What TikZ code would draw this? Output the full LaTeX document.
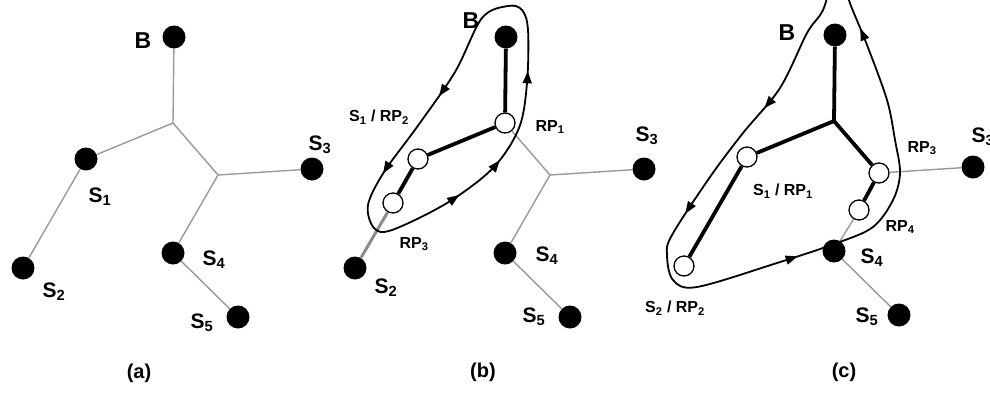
\documentclass[tikz,border=0pt]{standalone}
\usepackage{fontspec}
\setsansfont{Liberation Sans}
\usetikzlibrary{arrows.meta,decorations.markings}

\tikzset{
  site/.style={circle,fill=black,minimum size=23pt,inner sep=0pt},
  relay/.style={circle,draw=black,line width=1.3pt,fill=white,minimum size=20pt,inner sep=0pt},
  link/.style={black!40,line width=1.4pt},
  heavy/.style={black,line width=3.8pt},
  tour/.style={black,line width=1.8pt},
  flow/.style={postaction={decorate,decoration={markings,
      mark=at position #1 with {\arrow{Triangle[length=12pt,width=9pt]}}}}},
  lbl/.style={font=\fontsize{21}{23}\selectfont\bfseries\sffamily,inner sep=0pt},
  blbl/.style={font=\fontsize{23}{25}\selectfont\bfseries\sffamily,inner sep=0pt},
  rplbl/.style={font=\fontsize{16}{18}\selectfont\bfseries\sffamily,inner sep=0pt},
  panel/.style={font=\fontsize{20}{22}\selectfont\bfseries\sffamily,inner sep=0pt}
}

\begin{document}
\begin{tikzpicture}[x=1pt,y=-1pt]
  \useasboundingbox (0,0) rectangle (990,397);
  \clip (0,0) rectangle (990,397);
  % (a): the plain tree
  \begin{scope}
    \node[site] (aB) at (174,37) {};
    \coordinate (aJ1) at (173,123);
    \coordinate (aJ2) at (218,175);
    \node[site] (aS1) at (86,159) {};
    \node[site] (aS2) at (23,268) {};
    \node[site] (aS3) at (312,169) {};
    \node[site] (aS4) at (173,253) {};
    \node[site] (aS5) at (238,317) {};
    \draw[link] (aB) -- (aJ1) -- (aS1) -- (aS2);
    \draw[link] (aJ1) -- (aJ2) -- (aS3);
    \draw[link] (aJ2) -- (aS4) -- (aS5);
    \node[blbl] (aBl) at (143,41) {B};
    \node[lbl] (aS1l) at (100,197) {S\textsubscript{1}};
    \node[lbl] (aS2l) at (54,292) {S\textsubscript{2}};
    \node[lbl] (aS3l) at (320,145) {S\textsubscript{3}};
    \node[lbl] (aS4l) at (214,260) {S\textsubscript{4}};
    \node[lbl] (aS5l) at (202,323) {S\textsubscript{5}};
    \node[panel] (acap) at (139,373) {(a)};
  \end{scope}
  % (b): tour through RP1, RP2 and RP3
  \begin{scope}[xshift=332pt]
    \node[site] (bB) at (174,37) {};
    \coordinate (bJ2) at (218,175);
    \node[site] (bS2) at (23,268) {};
    \node[site] (bS3) at (312,169) {};
    \node[site] (bS4) at (173,253) {};
    \node[site] (bS5) at (238,317) {};
    \node[relay] (bRP1) at (173,123) {};
    \node[relay] (bRP2) at (86,159) {};
    \node[relay] (bRP3) at (61,203) {};
    \draw[link] (bRP1) -- (bJ2) -- (bS3);
    \draw[link] (bJ2) -- (bS4) -- (bS5);
    \draw[black!45,line width=3pt] (bRP3) -- (bS2);
    \draw[heavy] (bB) -- (bRP1) -- (bRP2) -- (bRP3);
    \draw[tour,flow=0.15,flow=0.31,flow=0.57,flow=0.66,flow=0.82]
      plot[smooth cycle,tension=0.55] coordinates {(176,6) (150,18) (123,72) (85,127)
        (52,172) (36,205) (42,228) (60,230) (115,203) (161,168) (187,128) (195,83)
        (196,30) (190,10)};
    \node[blbl] (bBl) at (139,21) {B};
    \node[rplbl] (bRP2l) at (47,117) {S\textsubscript{1} / RP\textsubscript{2}};
    \node[rplbl] (bRP1l) at (218,127) {RP\textsubscript{1}};
    \node[rplbl] (bRP3l) at (82,244) {RP\textsubscript{3}};
    \node[lbl] (bS2l) at (54,288) {S\textsubscript{2}};
    \node[lbl] (bS3l) at (315,136) {S\textsubscript{3}};
    \node[lbl] (bS4l) at (215,256) {S\textsubscript{4}};
    \node[lbl] (bS5l) at (202,317) {S\textsubscript{5}};
    \node[panel] (bcap) at (151,372) {(b)};
  \end{scope}
  % (c): tour through RP1 to RP4
  \begin{scope}[xshift=661pt,yshift=2pt]
    \node[site] (cB) at (174,37) {};
    \coordinate (cJ1) at (173,123);
    \node[site] (cS3) at (312,169) {};
    \node[site] (cS4) at (173,253) {};
    \node[site] (cS5) at (238,317) {};
    \node[relay] (cRP1) at (86,159) {};
    \node[relay] (cRP2) at (23,268) {};
    \node[relay] (cRP3) at (218,175) {};
    \node[relay] (cRP4) at (198,212) {};
    \draw[link] (cRP3) -- (cS3);
    \draw[link] (cRP4) -- (cS4) -- (cS5);
    \draw[heavy] (cB) -- (cJ1) -- (cRP1) -- (cRP2);
    \draw[heavy] (cJ1) -- (cRP3) -- (cRP4);
    \draw[tour,flow=0.135,flow=0.29,flow=0.53,flow=0.875,flow=0.955]
      plot[smooth cycle,tension=0.55] coordinates {(176,-28) (162,12) (146,35) (119,90)
        (82,135) (49,179) (11,237) (6,257) (12,282) (36,289) (116,265) (176,245)
        (212,229) (232,202) (239,175) (234,142) (226,102) (206,47) (190,8)};
    \node[blbl] (cBl) at (126,35) {B};
    \node[rplbl] (cRP1l) at (122,193) {S\textsubscript{1} / RP\textsubscript{1}};
    \node[rplbl] (cRP2l) at (14,310) {S\textsubscript{2} / RP\textsubscript{2}};
    \node[rplbl] (cRP3l) at (261,150) {RP\textsubscript{3}};
    \node[rplbl] (cRP4l) at (239,229) {RP\textsubscript{4}};
    \node[lbl] (cS3l) at (322,139) {S\textsubscript{3}};
    \node[lbl] (cS4l) at (211,260) {S\textsubscript{4}};
    \node[lbl] (cS5l) at (206,319) {S\textsubscript{5}};
    \node[panel] (ccap) at (183,374) {(c)};
  \end{scope}
\end{tikzpicture}
\end{document}
